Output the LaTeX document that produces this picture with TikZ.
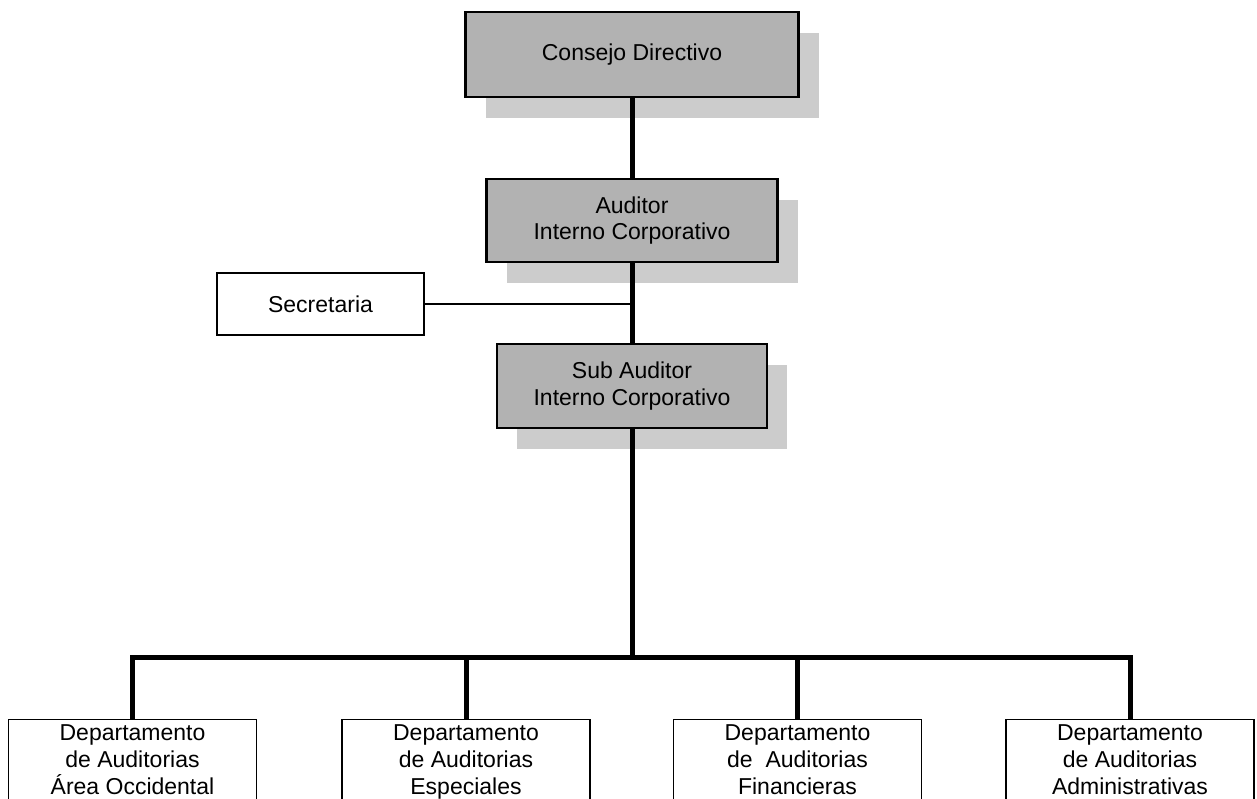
\documentclass[tikz,border=0pt]{standalone}
\usepackage{fontspec}
\setmainfont{Liberation Sans}
\usetikzlibrary{shadows}
\definecolor{boxgray}{RGB}{178,178,178}
\definecolor{shadowgray}{RGB}{204,204,204}
\begin{document}
\begin{tikzpicture}[x=1pt,y=-1pt,
  every node/.style={font=\fontsize{23}{26.5}\selectfont, align=center, inner sep=0pt},
  headbox/.style={draw=black, line width=2.8pt, fill=boxgray,
    drop shadow={shadow xshift=20pt, shadow yshift=-21pt, fill=shadowgray, opacity=1, draw=none}},
  plainbox/.style={draw=black, line width=1.3pt, fill=white},
  deptbox/.style={plainbox, anchor=north, minimum width=248pt, minimum height=80pt,
    text depth=0pt, font=\fontsize{23}{27}\selectfont},
  conn/.style={draw=black, line width=5pt},
  thinconn/.style={draw=black, line width=1.2pt}]
\useasboundingbox (0,0) rectangle (1257,798);
\clip (0,0) rectangle (1257,798);

% management chain
\node[headbox, minimum width=333pt, minimum height=85pt] (cd) at (632,54.5) {Consejo Directivo};
\node[headbox, minimum width=291pt, minimum height=83pt] (aic) at (632,220.5) {Auditor\\Interno Corporativo};
\node[headbox, minimum width=270pt, minimum height=84pt] (sai) at (632,386) {Sub Auditor\\Interno Corporativo};

% staff unit
\node[plainbox, minimum width=207pt, minimum height=62pt] (sec) at (320.5,304) {Secretaria};

% departments
\node[deptbox] (d1) at (132.5,719) {Departamento\\de Auditorias\\Área Occidental};
\node[deptbox] (d2) at (466,719) {Departamento\\de Auditorias\\Especiales};
\node[deptbox] (d3) at (797.5,719) {Departamento\\de\ \ Auditorias\\Financieras};
\node[deptbox] (d4) at (1130,719) {Departamento\\de Auditorias\\Administrativas};

% junction points
\coordinate (sj) at (632,304);
\coordinate (bus) at (632,657);

% connectors
\draw[conn] (cd) -- (aic);
\draw[conn] (aic) -- (sai);
\draw[conn] (sai) -- (bus);
\draw[thinconn] (sec) -- (sj);
\draw[conn] (d1.north) -- (d1.north |- bus) -- (d4.north |- bus) -- (d4.north);
\draw[conn] (d2.north) -- (d2.north |- bus);
\draw[conn] (d3.north) -- (d3.north |- bus);
\end{tikzpicture}
\end{document}
